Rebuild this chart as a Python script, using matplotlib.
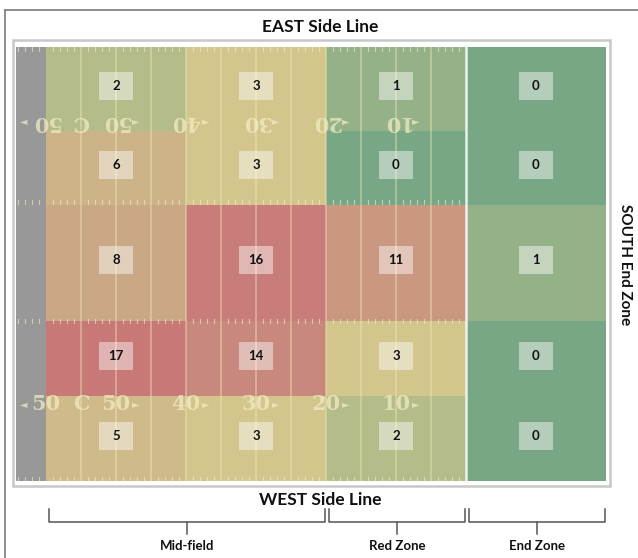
import matplotlib
matplotlib.use("Agg")
import numpy as np
import matplotlib.pyplot as plt
from matplotlib.colors import LinearSegmentedColormap, Normalize
from matplotlib.patches import Rectangle

# counts per field zone (rows: east -> west side line, cols: 20-yard bands -> end zone)
counts = np.array([
    [2, 3, 1, 0],
    [6, 3, 0, 0],
    [8, 16, 11, 1],
    [17, 14, 3, 0],
    [5, 3, 2, 0],
])
zone_names = ["Mid-field", "Red Zone", "End Zone"]
zone_cols = [(0, 2), (2, 3), (3, 4)]  # columns spanned by each zone
yard_labels = ["50", "C", "50", "40", "30", "20", "10"]
yard_marks = [0, 5, 10, 20, 30, 40, 50]  # yards from the left edge of the field

# layout (pixels)
W, H = 638, 558
X0, PX_YD = 46, 7.0  # left of coloured field and pixels per yard
col_edges = X0 + PX_YD * np.array([0, 20, 40, 60, 80])
row_edges = np.array([47, 131, 205, 321, 396, 481])


def X(u):
    return X0 + PX_YD * np.asarray(u)


cmap = LinearSegmentedColormap.from_list("heat", [
    (0.0, "#77a784"), (3 / 17, "#d2c68c"), (8 / 17, "#caa886"), (1.0, "#c97878")])
norm = Normalize(0, 17)

fig = plt.figure(figsize=(W / 100, H / 100), dpi=100)
ax = fig.add_axes([0, 0, 1, 1])
ax.set_xlim(0, W)
ax.set_ylim(H, 0)
ax.axis("off")

# outer frame (top and left only)
ax.plot([5, W], [10, 10], color="#7a7a7a", lw=1.2)
ax.plot([5, 5], [10, H], color="#7a7a7a", lw=1.2)

# field frame + grey strip
ax.add_patch(Rectangle((13, 40), 597, 446, fc="white", ec="#c8c8c8", lw=1.8, zorder=1))
ax.add_patch(Rectangle((16, 47), X0 - 16, 434, fc="#989898", ec="none", zorder=2))

# heat cells
ax.pcolormesh(col_edges, row_edges, counts, cmap=cmap, norm=norm, zorder=2)

# yard lines
line_kw = dict(color="#f6eeb8", alpha=0.45, lw=1.2, zorder=3)
for u in range(5, 60, 5):
    ax.plot([X(u), X(u)], [47, 481], **line_kw)
ax.plot([X(60), X(60)], [47, 481], color="white", alpha=0.85, lw=1.8, zorder=3)

# hash marks
for u in range(-4, 60):
    if u % 5 == 0:
        continue
    for y0, y1 in [(47, 51), (477, 481), (200, 204), (319, 323)]:
        ax.plot([X(u), X(u)], [y0, y1], color="#f4eed0", alpha=0.6, lw=0.8, zorder=3)

# yard numbers (top row upside down, bottom row upright)
num_kw = dict(family=["DejaVu Serif"], weight="bold", fontsize=15,
              color="#f4eec4", alpha=0.72, ha="center", va="center", zorder=3)
arr_kw = dict(family=["DejaVu Sans"], fontsize=7, color="#f4eec4", alpha=0.72,
              ha="center", va="center", zorder=3)
for lab, u in zip(yard_labels, yard_marks):
    ax.text(X(u), 122, lab, rotation=180, **num_kw)
    ax.text(X(u), 404, lab, **num_kw)
    if lab != "C" and u > 0:
        ax.text(X(u) + 20, 121, "\u25ba", **arr_kw)
        ax.text(X(u) + 20, 404, "\u25ba", **arr_kw)
ax.text(X(0) - 22, 121, "\u25c4", **arr_kw)
ax.text(X(0) - 22, 404, "\u25c4", **arr_kw)

# value boxes
for i in range(counts.shape[0]):
    for j in range(counts.shape[1]):
        cx = (col_edges[j] + col_edges[j + 1]) / 2
        cy = (row_edges[i] + row_edges[i + 1]) / 2 - 3
        ax.add_patch(Rectangle((cx - 17, cy - 14), 34, 28, fc="white", alpha=0.45,
                               ec="none", zorder=4))
        ax.text(cx, cy, str(counts[i, j]), ha="center", va="center", fontsize=9.5,
                weight="bold", family="Lato", color="#111111", zorder=5)

# side labels
lab_kw = dict(family="Lato", weight="bold", color="#111111", ha="center", va="center")
ax.text(320, 27, "EAST Side Line", fontsize=12.5, **lab_kw)
ax.text(320, 500, "WEST Side Line", fontsize=12.5, **lab_kw)
ax.text(625, 265, "SOUTH End Zone", fontsize=11, rotation=-90, **lab_kw)

# zone brackets
for name, (c0, c1) in zip(zone_names, zone_cols):
    xa, xb = col_edges[c0] + 3, col_edges[c1] - 1
    xm = (xa + xb) / 2
    ax.plot([xa, xa, xb, xb], [509, 522, 522, 509], color="#555555", lw=1.1)
    ax.plot([xm, xm], [522, 534], color="#555555", lw=1.1)
    ax.text(xm, 546, name, fontsize=9.5, **lab_kw)

fig.savefig("out.png", dpi=100)
